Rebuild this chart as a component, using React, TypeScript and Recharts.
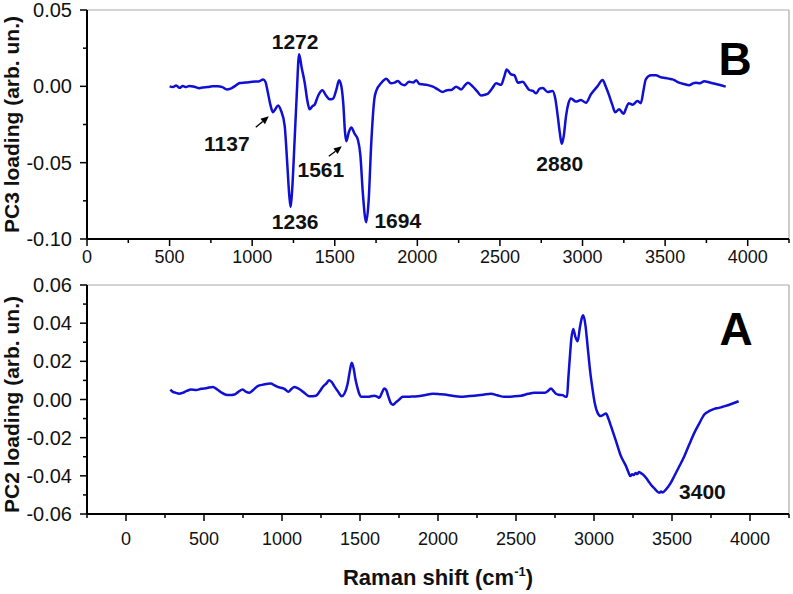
import { LineChart, Line, XAxis, YAxis, ReferenceLine, ReferenceDot } from 'recharts';

const FONT = '"Liberation Sans", Arial, Helvetica, sans-serif';
const BLUE = '#1010d4';
const FRAME = '#a9a9a9';

// PC3 loading (panel B)
const pc3Shift = [
  500, 520, 540, 560, 580, 600, 620, 650, 680, 700, 730, 760, 790, 820, 846, 870, 900, 925, 960, 1000,
  1040, 1066, 1080, 1095, 1110, 1126, 1140, 1157, 1175, 1197, 1212, 1225, 1233, 1242, 1257, 1270, 1284, 1300, 1318, 1335,
  1348, 1365, 1378, 1400, 1425, 1447, 1469, 1490, 1510, 1526, 1540, 1552, 1562, 1570, 1585, 1600, 1620, 1640, 1655, 1670,
  1690, 1705, 1721, 1740, 1751, 1780, 1812, 1840, 1862, 1882, 1902, 1922, 1950, 1975, 1993, 2013, 2033, 2064, 2094, 2124,
  2154, 2180, 2205, 2235, 2265, 2290, 2306, 2336, 2360, 2386, 2410, 2427, 2455, 2477, 2507, 2525, 2541, 2565, 2588, 2608,
  2638, 2660, 2678, 2700, 2719, 2740, 2759, 2789, 2819, 2835, 2850, 2862, 2874, 2887, 2900, 2915, 2930, 2960, 2990, 3021,
  3051, 3090, 3122, 3140, 3162, 3180, 3198, 3222, 3248, 3265, 3279, 3303, 3333, 3353, 3370, 3383, 3414, 3444, 3474, 3504,
  3525, 3545, 3565, 3585, 3615, 3646, 3666, 3686, 3710, 3737, 3760, 3787, 3827, 3867,
];
const pc3Loading = [
  0.0, -0.0005, 0.0005, -0.001, 0.0002, -0.0005, 0.0003, -0.0003, -0.0012, -0.0008, -0.0005, 0.0, 0.0, -0.0005, -0.002, -0.0015, 0.0005, 0.0022, 0.0025, 0.003,
  0.0032, 0.0044, 0.003, -0.004, -0.012, -0.017, -0.015, -0.0125, -0.016, -0.026, -0.05, -0.072, -0.079, -0.068, -0.035, -0.005, 0.021, 0.012, 0.0024, -0.01,
  -0.015, -0.013, -0.012, -0.006, -0.0026, -0.006, -0.0085, -0.008, -0.002, 0.004, 0.0, -0.012, -0.03, -0.036, -0.03, -0.027, -0.031, -0.035, -0.045, -0.07,
  -0.089, -0.075, -0.037, -0.008, -0.003, 0.002, 0.005, 0.002, 0.0024, 0.0035, 0.0015, 0.0007, 0.003, 0.0025, 0.004, 0.0015, 0.0013, 0.0008, -0.0002, -0.002,
  -0.0037, -0.0025, -0.0024, -0.0002, -0.002, 0.001, 0.0024, -0.0002, -0.003, -0.006, -0.0055, -0.0048, -0.001, 0.002, 0.001, 0.006, 0.011, 0.008, 0.0072, 0.0024,
  0.003, 0.0, -0.0024, -0.003, -0.0046, -0.0015, -0.0011, -0.0037, -0.003, -0.008, -0.0195, -0.03, -0.0376, -0.032, -0.0195, -0.011, -0.0079, -0.01, -0.009, -0.0107,
  -0.0052, 0.0, 0.0041, 0.0, -0.0063, -0.012, -0.017, -0.015, -0.018, -0.014, -0.011, -0.012, -0.0096, -0.011, -0.002, 0.0046, 0.0072, 0.0072, 0.006, 0.0055,
  0.005, 0.0046, 0.0035, 0.0024, 0.0015, 0.0007, 0.0018, 0.0024, 0.002, 0.0033, 0.0028, 0.002, 0.001, -0.0002,
];

// PC2 loading (panel A)
const pc2Shift = [
  284, 300, 320, 340, 363, 390, 417, 450, 481, 520, 556, 585, 609, 640, 663, 695, 720, 748, 770, 790,
  815, 844, 880, 929, 950, 972, 1015, 1041, 1060, 1079, 1100, 1122, 1150, 1175, 1218, 1240, 1261, 1285, 1303, 1320,
  1335, 1360, 1383, 1400, 1420, 1435, 1447, 1460, 1470, 1481, 1495, 1506, 1549, 1592, 1610, 1624, 1640, 1656, 1668, 1680,
  1695, 1710, 1730, 1752, 1774, 1820, 1870, 1920, 1966, 2010, 2062, 2100, 2147, 2190, 2233, 2290, 2340, 2380, 2425, 2480,
  2532, 2580, 2617, 2682, 2705, 2724, 2740, 2756, 2775, 2799, 2815, 2827, 2835, 2845, 2855, 2867, 2880, 2895, 2910, 2925,
  2931, 2945, 2959, 2975, 2991, 3005, 3023, 3044, 3060, 3077, 3092, 3109, 3140, 3173, 3190, 3205, 3220, 3233, 3245, 3256,
  3266, 3277, 3288, 3301, 3318, 3333, 3355, 3376, 3390, 3405, 3419, 3430, 3440, 3462, 3490, 3515, 3547, 3579, 3611, 3643,
  3675, 3707, 3740, 3771, 3800, 3825, 3876, 3927,
];
const pc2Loading = [
  0.0052, 0.004, 0.0035, 0.003, 0.0035, 0.0045, 0.0052, 0.005, 0.0056, 0.006, 0.0066, 0.0052, 0.0038, 0.0025, 0.0023, 0.0026, 0.004, 0.0052, 0.004, 0.0035,
  0.005, 0.007, 0.0078, 0.0084, 0.0075, 0.0066, 0.0056, 0.004, 0.0055, 0.0066, 0.006, 0.0049, 0.003, 0.0017, 0.002, 0.004, 0.0066, 0.0085, 0.0101, 0.009,
  0.007, 0.004, 0.0017, 0.003, 0.008, 0.015, 0.0192, 0.016, 0.011, 0.007, 0.003, 0.0014, 0.0014, 0.002, 0.0015, 0.0009, 0.0035, 0.0057, 0.005, 0.002,
  -0.0015, -0.0028, -0.0015, 0.0, 0.0014, 0.0015, 0.0017, 0.0024, 0.003, 0.0028, 0.0024, 0.0018, 0.0014, 0.0017, 0.002, 0.0025, 0.003, 0.0022, 0.0014, 0.0016,
  0.002, 0.003, 0.0035, 0.0035, 0.0045, 0.0058, 0.0045, 0.003, 0.0025, 0.0023, 0.0015, 0.0014, 0.0105, 0.022, 0.032, 0.037, 0.033, 0.0305, 0.038, 0.0435,
  0.0441, 0.039, 0.0279, 0.015, 0.0052, -0.002, -0.007, -0.0087, -0.008, -0.0073, -0.01, -0.014, -0.0215, -0.0297, -0.0325, -0.0349, -0.038, -0.0401, -0.0392, -0.0396,
  -0.0385, -0.0391, -0.038, -0.0386, -0.0396, -0.041, -0.0435, -0.0457, -0.0468, -0.0482, -0.0489, -0.0482, -0.0487, -0.0471, -0.044, -0.0401, -0.035, -0.0297, -0.0235, -0.0175,
  -0.0125, -0.0079, -0.006, -0.0049, -0.0044, -0.0038, -0.0025, -0.0009,
];

// axis ticks (minor + major) and labelled values
const topXTicks = [0, 250, 500, 750, 1000, 1250, 1500, 1750, 2000, 2250, 2500, 2750, 3000, 3250, 3500, 3750, 4000, 4250];
const topXLabels = [0, 500, 1000, 1500, 2000, 2500, 3000, 3500, 4000];
const topYTicks = [-0.1, -0.075, -0.05, -0.025, 0, 0.025, 0.05];
const topYLabels = [-0.1, -0.05, 0, 0.05];
const bottomXTicks = [-250, 0, 250, 500, 750, 1000, 1250, 1500, 1750, 2000, 2250, 2500, 2750, 3000, 3250, 3500, 3750, 4000, 4250];
const bottomXLabels = [0, 500, 1000, 1500, 2000, 2500, 3000, 3500, 4000];
const bottomYTicks = [-0.06, -0.05, -0.04, -0.03, -0.02, -0.01, 0, 0.01, 0.02, 0.03, 0.04, 0.05, 0.06];
const bottomYLabels = [-0.06, -0.04, -0.02, 0, 0.02, 0.04, 0.06];

// peak annotations
const pc3PeakShift = [1137, 1236, 1272, 1561, 1694, 2880];
const pc3PeakLoading = [-0.017, -0.079, 0.021, -0.036, -0.089, -0.0376];
const pc2PeakShift = [3400];
const pc2PeakLoading = [-0.049];

const pc3Data = pc3Shift.map((s, i) => ({ shift: s, loading: pc3Loading[i] }));
const pc2Data = pc2Shift.map((s, i) => ({ shift: s, loading: pc2Loading[i] }));

// label offsets from the peak point (px), optional arrow [tailDx, tailDy, tipDx, tipDy]
const labelOffset: Record<number, { dx: number; dy: number; arrow?: number[] }> = {
  1137: { dx: -48, dy: 39, arrow: [-19, 15, -6, 4] },
  1236: { dx: 4, dy: 22 },
  1272: { dx: -2, dy: -5 },
  1561: { dx: -24, dy: 36, arrow: [-16, 15, -3, 5] },
  1694: { dx: 31, dy: 6 },
  2880: { dx: -3, dy: 27 },
  3400: { dx: 46, dy: 6 },
};

const isIn = (list: number[], v: number) => list.some((l) => Math.abs(l - v) < 1e-9);

function XTick(props: any) {
  const { x, y, payload, labels, labelDy } = props;
  const major = isIn(labels, payload.value);
  return (
    <g>
      <line x1={x} x2={x} y1={y} y2={y + (major ? 7 : 4)} stroke="#000" strokeWidth={1.5} />
      {major && (
        <text x={x} y={y + labelDy} textAnchor="middle" fontSize={18} fontFamily={FONT} fill="#111">
          {payload.value}
        </text>
      )}
    </g>
  );
}

function YTick(props: any) {
  const { x, y, payload, labels } = props;
  const major = isIn(labels, payload.value);
  return (
    <g>
      <line x1={x} x2={x - (major ? 7 : 4)} y1={y} y2={y} stroke="#000" strokeWidth={1.5} />
      {major && (
        <text x={x - 15} y={y + 7} textAnchor="end" fontSize={20} fontFamily={FONT} fill="#111">
          {payload.value.toFixed(2)}
        </text>
      )}
    </g>
  );
}

function PeakLabel(props: any) {
  const { cx, cy, shift } = props;
  const o = labelOffset[shift];
  let arrow = null;
  if (o.arrow) {
    const [tx, ty, hx, hy] = o.arrow;
    const x1 = cx + tx, y1 = cy + ty, x2 = cx + hx, y2 = cy + hy;
    const len = Math.hypot(x2 - x1, y2 - y1);
    const ux = (x2 - x1) / len, uy = (y2 - y1) / len;
    const bx = x2 - ux * 8, by = y2 - uy * 8;
    arrow = (
      <g>
        <line x1={x1} y1={y1} x2={bx} y2={by} stroke="#000" strokeWidth={1.3} />
        <polygon
          points={`${x2},${y2} ${bx - uy * 3.5},${by + ux * 3.5} ${bx + uy * 3.5},${by - ux * 3.5}`}
          fill="#000"
        />
      </g>
    );
  }
  return (
    <g>
      {arrow}
      <text x={cx + o.dx} y={cy + o.dy} textAnchor="middle" fontSize={21} fontWeight="bold" fontFamily={FONT} fill="#111">
        {shift}
      </text>
    </g>
  );
}

export default function App() {
  return (
    <div style={{ position: 'absolute', left: 0, top: 0, width: 793, height: 594, background: '#fff', fontFamily: FONT }}>
      <div style={{ position: 'absolute', left: 0, top: 0 }}>
        <LineChart width={793} height={274} data={pc3Data} margin={{ top: 10, right: 4, bottom: 0, left: 0 }}>
          <XAxis
            dataKey="shift"
            type="number"
            domain={[0, 4250]}
            ticks={topXTicks}
            interval={0}
            allowDataOverflow
            height={35}
            tickSize={0}
            tickMargin={0}
            tickLine={false}
            axisLine={{ stroke: '#000', strokeWidth: 2 }}
            tick={(p: any) => <XTick {...p} labels={topXLabels} labelDy={24} />}
          />
          <YAxis
            type="number"
            domain={[-0.1, 0.05]}
            ticks={topYTicks}
            interval={0}
            allowDataOverflow
            width={87}
            tickSize={0}
            tickMargin={0}
            tickLine={false}
            axisLine={{ stroke: '#000', strokeWidth: 2 }}
            tick={(p: any) => <YTick {...p} labels={topYLabels} />}
          />
          <ReferenceLine y={0.05} stroke={FRAME} strokeWidth={1.2} />
          <ReferenceLine x={4250} stroke={FRAME} strokeWidth={1.2} />
          <Line
            dataKey="loading"
            type="monotone"
            stroke={BLUE}
            strokeWidth={2.5}
            dot={false}
            isAnimationActive={false}
          />
          {pc3PeakShift.map((s, i) => (
            <ReferenceDot
              key={s}
              x={s}
              y={pc3PeakLoading[i]}
              r={0}
              shape={(p: any) => <PeakLabel {...p} shift={s} />}
            />
          ))}
        </LineChart>
      </div>
      <div style={{ position: 'absolute', left: 0, top: 262 }}>
        <LineChart width={793} height={332} data={pc2Data} margin={{ top: 23, right: 4, bottom: 0, left: 0 }}>
          <XAxis
            dataKey="shift"
            type="number"
            domain={[-250, 4250]}
            ticks={bottomXTicks}
            interval={0}
            allowDataOverflow
            height={80}
            tickSize={0}
            tickMargin={0}
            tickLine={false}
            axisLine={{ stroke: '#000', strokeWidth: 2 }}
            tick={(p: any) => <XTick {...p} labels={bottomXLabels} labelDy={31} />}
          />
          <YAxis
            type="number"
            domain={[-0.06, 0.06]}
            ticks={bottomYTicks}
            interval={0}
            allowDataOverflow
            width={87}
            tickSize={0}
            tickMargin={0}
            tickLine={false}
            axisLine={{ stroke: '#000', strokeWidth: 2 }}
            tick={(p: any) => <YTick {...p} labels={bottomYLabels} />}
          />
          <ReferenceLine y={0.06} stroke={FRAME} strokeWidth={1.2} />
          <ReferenceLine x={4250} stroke={FRAME} strokeWidth={1.2} />
          <Line
            dataKey="loading"
            type="monotone"
            stroke={BLUE}
            strokeWidth={2.5}
            dot={false}
            isAnimationActive={false}
          />
          {pc2PeakShift.map((s, i) => (
            <ReferenceDot
              key={s}
              x={s}
              y={pc2PeakLoading[i]}
              r={0}
              shape={(p: any) => <PeakLabel {...p} shift={s} />}
            />
          ))}
        </LineChart>
      </div>
      <svg width={793} height={594} style={{ position: 'absolute', left: 0, top: 0, pointerEvents: 'none' }}>
        <text
          transform="translate(18.5,124.5) rotate(-90)"
          textAnchor="middle"
          fontSize={21}
          fontWeight="bold"
          fontFamily={FONT}
          fill="#111"
        >
          PC3 loading (arb. un.)
        </text>
        <text
          transform="translate(18.5,404.5) rotate(-90)"
          textAnchor="middle"
          fontSize={21}
          fontWeight="bold"
          fontFamily={FONT}
          fill="#111"
        >
          PC2 loading (arb. un.)
        </text>
        <text x={438} y={585} textAnchor="middle" fontSize={22} fontWeight="bold" fontFamily={FONT} fill="#111">
          Raman shift (cm
          <tspan fontSize={13} dy={-9}>-1</tspan>
          <tspan dy={9}>)</tspan>
        </text>
        <text x={735} y={75} textAnchor="middle" fontSize={46} fontWeight="bold" fontFamily={FONT} fill="#000">
          B
        </text>
        <text x={736} y={345} textAnchor="middle" fontSize={46} fontWeight="bold" fontFamily={FONT} fill="#000">
          A
        </text>
      </svg>
    </div>
  );
}
